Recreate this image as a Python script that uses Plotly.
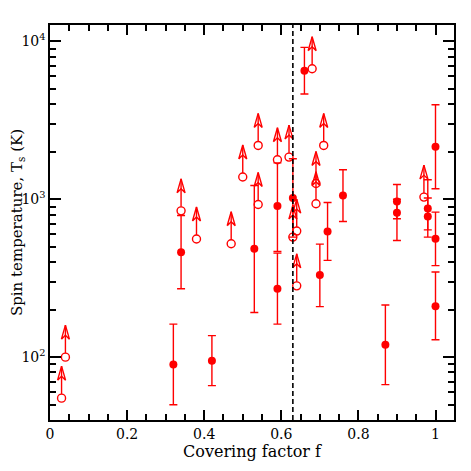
import math
import plotly.graph_objects as go

# detections: covering factor, spin temperature, upper and lower error-bar ends (K)
det_f = [0.32, 0.34, 0.42, 0.53, 0.59, 0.59, 0.63, 0.66, 0.70, 0.72,
         0.76, 0.87, 0.90, 0.90, 0.98, 0.98, 1.00, 1.00, 1.00]
det_T = [90, 462, 95, 486, 906, 271, 1018, 6520, 331, 625,
         1057, 120, 968, 821, 874, 778, 2152, 562, 210]
det_hi = [162, 789, 137, 1223, 1700, 456, 1806, 9160, 520, 955,
          1538, 214, 1241, 1000, 1330, 1018, 3970, 829, 346]
det_lo = [50, 271, 66, 192, 467, 162, 576, 4640, 209, 410,
          723, 67, 752, 548, 640, 576, 1166, 380, 129]

# lower limits (open circles with arrows)
lim_f = [0.03, 0.04, 0.34, 0.38, 0.47, 0.50, 0.54, 0.54, 0.59, 0.62,
         0.63, 0.64, 0.64, 0.68, 0.69, 0.69, 0.71, 0.97]
lim_T = [55, 100, 845, 560, 523, 1383, 2193, 927, 1780, 1850,
         576, 629, 283, 6710, 1259, 937, 2193, 1032]

f_line = 0.63
y_ticks = [100, 1000, 10000]
y_ticktext = ["10<sup>2</sup>", "10<sup>3</sup>", "10<sup>4</sup>"]

RED = "#ff0000"
FONT = "DejaVu Serif"

x_range = [0, 1.048]
y_range = [math.log10(40), math.log10(12700)]

# the page body adds an 8px margin, so the figure is 8px smaller
W, H = 463, 463
M = dict(l=42, r=17, t=17, b=51)

# size of one pixel in axis units, to draw arrows of fixed pixel size
px_x = (x_range[1] - x_range[0]) / (W - M["l"] - M["r"])
px_y = (y_range[1] - y_range[0]) / (H - M["t"] - M["b"])

ax_x, ax_y = [], []
for f, t in zip(lim_f, lim_T):
    ly = math.log10(t)
    tip = ly + 32 * px_y
    pts = [
        (f, ly + 4 * px_y), (f, tip), None,
        (f - 4 * px_x, tip - 14 * px_y), (f, tip),
        (f + 4 * px_x, tip - 14 * px_y), (f, tip - 10 * px_y),
        (f - 4 * px_x, tip - 14 * px_y), None,
    ]
    for p in pts:
        if p is None:
            ax_x.append(None)
            ax_y.append(None)
        else:
            ax_x.append(p[0])
            ax_y.append(10 ** p[1])

fig = go.Figure()

fig.add_trace(go.Scatter(
    x=ax_x, y=ax_y, mode="lines",
    line=dict(color=RED, width=1.4),
    hoverinfo="skip", showlegend=False,
))

fig.add_trace(go.Scatter(
    x=det_f, y=det_T, mode="markers",
    marker=dict(color=RED, size=8),
    error_y=dict(type="data", symmetric=False,
                 array=[h - t for h, t in zip(det_hi, det_T)],
                 arrayminus=[t - l for t, l in zip(det_T, det_lo)],
                 color=RED, thickness=1.4, width=4),
    showlegend=False,
))

fig.add_trace(go.Scatter(
    x=lim_f, y=lim_T, mode="markers",
    marker=dict(color=RED, size=8, symbol="circle-open",
                line=dict(color=RED, width=1.4)),
    showlegend=False,
))

fig.add_shape(type="line", x0=f_line, x1=f_line, xref="x", yref="paper",
              y0=0, y1=1, line=dict(color="black", width=1.6, dash="5px,3px"))

axis_common = dict(showline=True, linecolor="black", linewidth=1.5,
                   mirror="ticks", ticks="inside", tickwidth=1.5,
                   tickcolor="black", showgrid=False, zeroline=False,
                   tickfont=dict(family=FONT, size=14, color="black"))

fig.update_xaxes(range=x_range, tickmode="array",
                 tickvals=[0, 0.2, 0.4, 0.6, 0.8, 1.0],
                 ticktext=["0", "0.2", "0.4", "0.6", "0.8", "1"],
                 ticklen=10,
                 minor=dict(tickmode="linear", tick0=0, dtick=0.05,
                            ticks="inside", ticklen=6, tickwidth=1.5,
                            tickcolor="black"),
                 title=dict(text="Covering factor f",
                            font=dict(family=FONT, size=16, color="black"),
                            standoff=4),
                 **axis_common)

fig.update_yaxes(type="log", range=y_range,
                 tickmode="array", tickvals=y_ticks, ticktext=y_ticktext,
                 ticklen=11,
                 minor=dict(tickmode="array",
                            tickvals=[m * 10 ** k for k in (1, 2, 3, 4)
                                      for m in range(2, 10)],
                            ticks="inside", ticklen=6, tickwidth=1.5,
                            tickcolor="black"),
                 title=dict(text="Spin temperature, T<sub>s</sub> (K)",
                            font=dict(family=FONT, size=15, color="black"),
                            standoff=8),
                 **axis_common)

fig.update_layout(width=W, height=H,
                  margin=dict(**M, autoexpand=False),
                  plot_bgcolor="white", paper_bgcolor="white")

fig.write_html("out.html")
